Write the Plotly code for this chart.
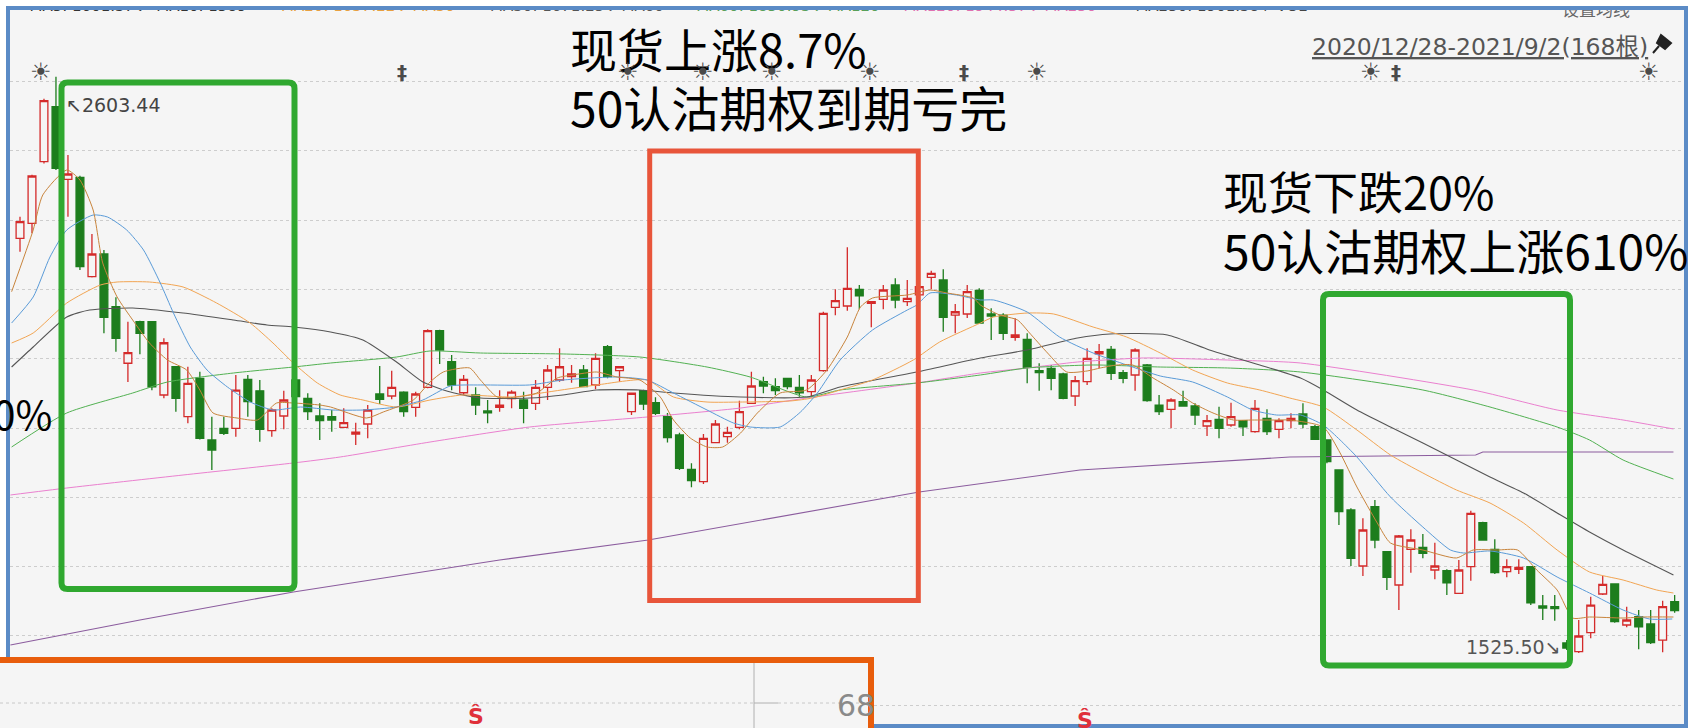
import plotly.graph_objects as go

# ---------------- data ----------------
OPEN = [2301.2, 2329.2, 2444.4, 2547.3, 2411.5, 2415.3, 2229.3, 2271.8, 2173.2, 2067.4,
        2145.2, 2145.2, 2008.1, 2060.9, 1967.5, 2039.3, 1923.9, 1945.7, 1945.7, 2037.4,
        2015.8, 1941.3, 1968.8, 2036.1, 2001.9, 1968.8, 1967.5, 1947.6, 1935.1, 1953.8,
        2009.9, 2006.2, 2013.6, 1985.0, 2022.4, 2128.3, 2070.3, 2012.3, 2008.1, 1978.1,
        1985.0, 2001.1, 1998.7, 1992.5, 2022.4, 2036.1, 2042.3, 2054.8, 2026.8, 2098.4,
        2053.5, 1976.8, 2016.1, 1993.6, 1967.5, 1933.2, 1869.1, 1845.9, 1918.8, 1930.1,
        1947.6, 1992.5, 2032.9, 2023.6, 2039.3, 2022.4, 2014.2, 2053.5, 2172.1, 2174.5,
        2205.8, 2179.6, 2187.1, 2213.8, 2182.6, 2195.3, 2228.2, 2223.2, 2157.6, 2159.6,
        2203.5, 2159.6, 2157.6, 2116.0, 2112.2, 2053.5, 2058.0, 2047.3, 2006.2, 2032.9,
        2084.8, 2093.5, 2049.8, 2045.5, 2064.2, 1989.3, 1981.3, 1995.5, 1987.5, 1950.1,
        1962.6, 1951.9, 1960.0, 1939.4, 1964.4, 1943.9, 1960.0, 1972.5, 1948.7, 1923.9,
        1867.8, 1793.0, 1688.2, 1799.1, 1715.0, 1652.7, 1719.4, 1723.1, 1680.7, 1679.4,
        1637.1, 1686.9, 1769.2, 1719.4, 1677.5, 1682.0, 1686.9, 1613.4, 1612.0, 1544.2,
        1528.0, 1563.4, 1635.8, 1654.5, 1577.8, 1593.3, 1579.7, 1549.7, 1621.4]
HIGH = [2341.6, 2420.0, 2562.0, 2603.44, 2457.0, 2418.0, 2309.2, 2279.3, 2190.8, 2145.2,
        2147.0, 2146.0, 2114.1, 2062.0, 2060.9, 2051.6, 1967.5, 1967.5, 2045.5, 2045.5,
        2036.1, 1983.2, 2016.1, 2039.8, 2011.3, 1992.5, 1980.0, 1983.2, 1956.3, 1989.3,
        2062.3, 2053.5, 2015.0, 2014.2, 2130.9, 2130.0, 2082.9, 2045.5, 2022.4, 1998.7,
        2017.0, 2017.0, 2014.2, 2036.1, 2064.2, 2095.4, 2064.2, 2064.2, 2086.0, 2101.6,
        2062.3, 2012.0, 2018.0, 2003.7, 1974.4, 1937.5, 1880.3, 1935.1, 1961.3, 1948.7,
        1997.4, 2051.6, 2042.3, 2039.3, 2040.0, 2045.5, 2045.5, 2163.8, 2205.8, 2284.3,
        2213.8, 2183.0, 2213.8, 2226.3, 2223.2, 2213.8, 2240.5, 2243.2, 2178.4, 2213.8,
        2207.6, 2170.2, 2160.8, 2151.4, 2123.5, 2067.3, 2064.2, 2049.8, 2043.6, 2095.4,
        2103.4, 2099.7, 2054.8, 2095.4, 2066.0, 2008.1, 2001.9, 2016.1, 1992.5, 1970.6,
        1986.2, 1993.6, 1961.0, 1998.7, 1981.3, 1964.4, 1973.8, 1992.5, 1951.9, 1925.0,
        1869.0, 1796.1, 1777.4, 1811.7, 1716.0, 1746.2, 1756.8, 1748.0, 1731.8, 1682.0,
        1699.4, 1791.6, 1771.0, 1738.1, 1700.7, 1700.7, 1688.0, 1633.9, 1633.9, 1549.7,
        1587.2, 1630.7, 1669.5, 1656.0, 1612.1, 1605.9, 1605.9, 1623.3, 1633.9]
LOW = [2276.1, 2310.5, 2441.0, 2428.9, 2341.6, 2241.9, 2228.0, 2123.5, 2089.0, 2032.5,
       2084.2, 2017.0, 2001.9, 1976.8, 1955.1, 1925.0, 1867.8, 1933.2, 1930.1, 1967.5,
       1920.7, 1930.1, 1943.9, 1998.7, 1961.3, 1923.9, 1939.4, 1945.7, 1914.5, 1927.1,
       1991.2, 2000.0, 1967.5, 1967.5, 2020.6, 2066.0, 2017.0, 2008.1, 1970.6, 1955.1,
       1976.8, 1983.2, 1955.1, 1980.0, 1998.7, 2032.9, 2031.1, 2022.4, 2018.7, 2039.3,
       2032.9, 1970.6, 1980.0, 1970.6, 1919.2, 1867.8, 1835.4, 1841.6, 1917.7, 1918.8,
       1943.9, 1991.2, 2011.3, 2008.1, 2018.7, 2004.9, 2004.9, 2051.6, 2157.2, 2165.6,
       2168.3, 2134.7, 2168.3, 2170.2, 2174.5, 2185.8, 2205.8, 2126.5, 2123.5, 2152.1,
       2140.8, 2110.9, 2110.9, 2109.6, 2029.9, 2015.8, 2017.0, 2000.0, 1987.5, 2026.8,
       2058.0, 2036.1, 2029.9, 2015.8, 1995.5, 1970.6, 1945.7, 1986.2, 1951.9, 1931.4,
       1927.1, 1948.7, 1931.4, 1937.5, 1933.2, 1927.1, 1945.7, 1945.7, 1923.9, 1880.3,
       1764.9, 1688.2, 1669.5, 1721.2, 1643.3, 1605.9, 1675.7, 1702.6, 1663.3, 1633.9,
       1635.8, 1660.7, 1735.5, 1673.2, 1667.1, 1673.2, 1615.2, 1587.2, 1585.9, 1531.1,
       1525.5, 1553.0, 1633.9, 1582.1, 1573.5, 1532.4, 1542.3, 1527.0, 1600.8]
CLOSE = [2332.2, 2417.7, 2558.5, 2432.0, 2421.4, 2248.0, 2271.8, 2153.4, 2114.1, 2087.2,
         2123.5, 2023.2, 2105.8, 2001.9, 2029.9, 1927.1, 1905.2, 1936.4, 2017.0, 1995.5,
         1943.9, 1980.0, 1998.7, 2004.9, 1976.8, 1960.0, 1961.3, 1956.3, 1938.8, 1980.0,
         2000.0, 2022.4, 1976.8, 2009.9, 2128.3, 2092.2, 2026.8, 2037.4, 1989.3, 1974.9,
         1989.3, 2013.6, 1983.2, 2022.4, 2054.8, 2060.9, 2047.3, 2023.6, 2076.7, 2042.3,
         2060.9, 2011.3, 1991.2, 1973.8, 1928.6, 1871.0, 1847.8, 1927.1, 1953.8, 1938.3,
         1976.8, 2024.9, 2024.9, 2016.1, 2023.6, 2012.3, 2036.1, 2160.8, 2184.4, 2207.6,
         2193.4, 2182.6, 2204.5, 2185.8, 2188.9, 2210.6, 2235.7, 2153.4, 2163.8, 2201.3,
         2142.7, 2155.8, 2123.5, 2120.3, 2059.9, 2049.8, 2039.3, 2001.9, 2034.8, 2076.7,
         2089.0, 2048.6, 2039.3, 2092.2, 1997.4, 1976.8, 1998.7, 1987.5, 1970.6, 1960.0,
         1945.7, 1967.5, 1948.7, 1983.2, 1939.4, 1960.0, 1964.4, 1953.8, 1925.2, 1883.3,
         1789.8, 1702.6, 1755.5, 1736.8, 1667.1, 1744.3, 1736.8, 1711.9, 1688.2, 1656.9,
         1680.7, 1786.8, 1736.8, 1675.7, 1686.9, 1685.8, 1619.5, 1609.6, 1608.3, 1534.8,
         1557.3, 1615.2, 1653.9, 1584.0, 1587.2, 1574.6, 1544.7, 1612.1, 1604.6]
BAR = list(range(len(OPEN)))

# moving averages: (bar position, value) pairs
MA5 = [(-0.7, 2201.3), (1.1, 2316.7), (1.9, 2382.2), (3.9, 2428.9), (5.0, 2410.2), (6.1, 2354.1),
       (6.9, 2255.0), (8.1, 2191.4), (9.4, 2148.3), (10.8, 2105.3), (12.3, 2073.5), (13.9, 2054.8),
       (15.0, 2017.4), (16.1, 1974.4), (18.1, 1965.0), (19.8, 1961.3), (21.4, 1993.1), (22.8, 1993.1),
       (25.0, 1989.3), (25.9, 1985.6), (28.9, 1965.0), (30.3, 1976.3), (32.8, 1998.7), (34.2, 2032.4),
       (35.3, 2051.1), (37.5, 2058.6), (38.4, 2036.1), (39.8, 2004.3), (41.5, 2004.3), (43.1, 2011.8),
       (44.8, 2039.8), (46.1, 2045.5), (48.1, 2051.1), (49.8, 2041.7), (51.7, 2036.1), (53.4, 2004.3),
       (54.5, 1961.3), (55.9, 1927.6), (57.3, 1910.8), (58.6, 1910.8), (60.1, 1937.0), (61.5, 1974.4),
       (63.4, 2011.8), (65.6, 2017.4), (67.3, 2054.8), (69.0, 2116.5), (70.1, 2172.7), (71.1, 2189.5),
       (74.0, 2195.1), (75.9, 2204.5), (77.3, 2198.9), (79.5, 2189.5), (80.1, 2176.4), (81.7, 2157.7),
       (83.2, 2148.3), (84.2, 2124.0), (85.7, 2086.6), (87.3, 2051.1), (89.0, 2053.0), (90.1, 2058.6),
       (91.5, 2064.2), (92.8, 2064.2), (94.5, 2039.9), (96.2, 2017.4), (97.8, 1993.1), (99.5, 1974.4),
       (101.2, 1961.3), (102.8, 1961.3), (104.8, 1961.3), (105.9, 1961.3), (108.7, 1948.2),
       (110.1, 1899.6), (111.5, 1836.0), (113.2, 1768.6), (114.3, 1731.2), (117.0, 1718.1),
       (119.8, 1703.2), (121.2, 1718.1), (123.2, 1718.1), (124.9, 1718.1), (126.5, 1680.7),
       (128.2, 1643.3), (129.5, 1590.9), (130.9, 1592.8), (133.7, 1590.9), (135.4, 1592.8),
       (137.9, 1592.8)]
MA10 = [(-0.7, 2142.7), (1.1, 2191.4), (2.5, 2266.2), (3.9, 2316.7), (6.1, 2344.7), (7.3, 2341.0),
        (8.9, 2316.7), (10.3, 2279.3), (11.7, 2217.6), (12.8, 2161.4), (14.2, 2097.8), (15.6, 2054.8),
        (17.3, 2023.0), (19.2, 1995.0), (21.1, 1980.0), (23.4, 1985.6), (26.1, 1980.0), (28.6, 1980.0),
        (31.4, 1985.6), (33.6, 1998.7), (35.9, 2024.9), (38.4, 2026.8), (42.5, 2026.8), (45.3, 2036.1),
        (49.8, 2041.7), (52.3, 2036.1), (54.5, 2011.8), (57.3, 1980.0), (59.5, 1955.7), (60.9, 1948.2),
        (63.4, 1948.2), (65.1, 1976.3), (66.5, 2011.8), (68.4, 2073.5), (71.1, 2129.6), (74.0, 2167.0),
        (74.8, 2176.4), (75.9, 2198.9), (78.1, 2195.1), (80.1, 2185.8), (81.2, 2185.8), (84.0, 2163.3),
        (86.7, 2116.5), (89.5, 2086.6), (92.3, 2064.2), (95.1, 2043.6), (97.8, 2032.4), (100.7, 2004.3),
        (102.8, 1980.0), (104.8, 1970.6), (106.8, 1970.6), (108.7, 1951.9), (110.1, 1923.9),
        (111.5, 1892.1), (114.3, 1817.3), (117.0, 1761.1), (119.3, 1718.1), (120.4, 1712.5),
        (122.6, 1716.3), (125.4, 1703.2), (128.2, 1667.6), (130.9, 1637.7), (133.7, 1605.9),
        (135.9, 1589.1), (137.8, 1589.1)]
MA20 = [(-0.7, 2105.3), (1.1, 2124.0), (3.9, 2180.1), (6.7, 2213.8), (8.1, 2219.4), (10.8, 2219.4),
        (13.6, 2210.1), (16.4, 2180.1), (19.2, 2142.7), (21.1, 2105.3), (22.8, 2067.9), (24.8, 2030.5),
        (26.7, 2008.1), (28.6, 1998.7), (31.4, 1985.6), (34.2, 1998.7), (36.9, 2008.1), (41.1, 2004.3),
        (44.0, 2013.6), (48.1, 2026.8), (52.3, 2036.1), (54.5, 2004.3), (57.3, 1994.9), (60.1, 1994.9),
        (64.2, 1996.8), (66.1, 2002.4), (68.4, 2017.4), (71.1, 2036.1), (74.5, 2073.5), (76.7, 2107.2),
        (80.1, 2142.7), (81.2, 2153.9), (84.0, 2161.4), (86.2, 2159.6), (89.5, 2135.2), (92.3, 2116.5),
        (95.1, 2086.6), (97.8, 2054.8), (100.7, 2030.5), (103.4, 2017.4), (105.9, 2002.4),
        (108.7, 1985.6), (111.5, 1942.6), (114.3, 1895.8), (117.0, 1862.2), (119.8, 1830.4),
        (122.6, 1806.0), (125.4, 1768.6), (128.2, 1718.1), (130.9, 1677.0), (133.7, 1662.0),
        (136.5, 1643.3), (137.9, 1637.7)]
MA30 = [(-0.7, 2060.4), (1.1, 2097.8), (3.9, 2153.9), (5.8, 2167.0), (9.4, 2170.8), (13.6, 2161.4),
        (17.8, 2148.3), (20.6, 2139.0), (22.8, 2135.2), (25.9, 2125.9), (28.6, 2110.9), (31.4, 2069.8),
        (33.6, 2032.4), (35.9, 2013.6), (38.4, 2002.4), (42.5, 2002.4), (45.3, 2008.1), (48.1, 2017.4),
        (51.7, 2017.4), (54.5, 2011.8), (60.1, 2004.3), (65.6, 2004.3), (68.4, 2023.0), (74.8, 2051.1),
        (80.1, 2077.3), (84.0, 2092.2), (88.2, 2114.7), (90.9, 2122.2), (95.7, 2120.3), (99.2, 2092.2),
        (103.4, 2064.2), (106.8, 2039.8), (108.7, 2017.4), (111.5, 1980.0), (114.3, 1948.2),
        (117.0, 1918.3), (119.8, 1886.5), (122.6, 1854.7), (125.4, 1824.8), (128.2, 1787.3),
        (130.9, 1751.8), (133.7, 1718.1), (137.9, 1671.4)]
MA60 = [(-0.7, 1910.8), (3.9, 1974.4), (9.4, 2011.8), (12.3, 2032.4), (17.8, 2049.2), (22.8, 2060.4),
        (25.9, 2067.9), (31.4, 2079.1), (34.2, 2090.4), (38.4, 2086.6), (45.3, 2084.8), (51.7, 2079.1),
        (57.3, 2060.4), (60.9, 2041.7), (65.6, 2004.3), (68.4, 2017.4), (74.8, 2030.5), (80.1, 2045.5),
        (84.0, 2058.6), (89.5, 2064.2), (95.1, 2060.4), (100.7, 2058.6), (106.8, 2051.1),
        (117.0, 2017.4), (122.6, 1985.6), (128.2, 1948.2), (130.9, 1923.9), (133.7, 1886.5),
        (137.9, 1850.9)]
MA120 = [(-0.8, 1821.0), (3.9, 1834.1), (13.6, 1858.4), (22.8, 1880.9), (26.7, 1892.1), (34.2, 1920.1),
         (42.5, 1948.2), (52.3, 1966.9), (60.1, 1983.7), (65.6, 2002.4), (74.8, 2030.5), (80.1, 2049.2),
         (84.0, 2058.6), (88.2, 2069.8), (93.7, 2077.3), (100.7, 2073.5), (106.8, 2067.9),
         (121.2, 2017.4), (128.2, 1980.0), (133.7, 1961.3), (137.9, 1944.5)]
MA250 = [(-0.8, 1540.4), (10.0, 1587.2), (22.8, 1639.6), (40.0, 1699.4), (52.4, 1736.8), (75.0, 1826.6),
         (88.4, 1867.8), (105.9, 1892.1), (121.4, 1895.8), (122.0, 1901.4), (137.9, 1901.4)]

GRID_Y = [2594.1, 2464.5, 2334.9, 2205.3, 2075.7, 1946.1, 1816.5, 1686.9, 1557.3, 1427.7]
HIGH_LABEL = "↖2603.44"
LOW_LABEL = "1525.50↘"
RANGE_LABEL = "2020/12/28-2021/9/2(168根)"

# ---------------- layout geometry ----------------
W, H = 1694, 728
PL, PR, PT, PB = 10, 1684, 9, 724
X_RANGE = [-0.834, 138.78]
Y_RANGE = [1392.66, 2730.07]


def PX(px):
    return (px - PL) / (PR - PL)


def PY(py):
    return (PB - py) / (PB - PT)


def DX(px):
    return X_RANGE[0] + (px - PL) / (PR - PL) * (X_RANGE[1] - X_RANGE[0])


def DY(py):
    return Y_RANGE[1] - (py - PT) / (PB - PT) * (Y_RANGE[1] - Y_RANGE[0])


RED = "#d42a2a"
GREEN = "#1d7d1d"
BG = "#f5f5f5"

fig = go.Figure()

ma_styles = [
    (MA250, "#8b5c9e", "linear", 1.1),
    (MA120, "#ea80cf", "spline", 1.0),
    (MA60, "#52b152", "spline", 1.0),
    (MA30, "#555555", "spline", 1.1),
    (MA20, "#f2a553", "spline", 1.0),
    (MA10, "#5a9bd8", "spline", 1.0),
    (MA5, "#c8843c", "spline", 1.0),
]
for pts, col, shp, w in ma_styles:
    fig.add_trace(go.Scatter(
        x=[p[0] for p in pts], y=[p[1] for p in pts], mode="lines",
        line=dict(color=col, width=w, shape=shp, smoothing=0.6),
        hoverinfo="skip", showlegend=False))

fig.add_trace(go.Candlestick(
    x=BAR, open=OPEN, high=HIGH, low=LOW, close=CLOSE,
    increasing=dict(line=dict(color=RED, width=1.3), fillcolor=BG),
    decreasing=dict(line=dict(color=GREEN, width=1.3), fillcolor=GREEN),
    whiskerwidth=0, showlegend=False, hoverinfo="skip"))

# cut-off legend row at the very top (clipped by the plot area)
frag = [("MA5: 1601.37↓  MA10: 1589", 138, "#333333"),
        ("MA20: 1637.22↓ MA30", 368, "#e8a040"),
        ("MA30: 1671.25↓ MA60", 577, "#555555"),
        ("MA60: 1850.93↓ MA120", 788, "#58a058"),
        ("MA120: 1944.57↓ MA250", 1000, "#e070b0"),
        ("MA250: 1901.38↑ VOL", 1221, "#444444")]
fig.add_trace(go.Scatter(
    x=[DX(f[1]) for f in frag], y=[DY(7.5)] * len(frag), mode="text",
    text=[f[0] for f in frag], textposition="middle center",
    textfont=dict(size=15, color=[f[2] for f in frag], family="DejaVu Sans"),
    cliponaxis=True, hoverinfo="skip", showlegend=False))
fig.add_trace(go.Scatter(
    x=[DX(1596)], y=[DY(12)], mode="text", text=["设置均线"], textposition="middle center",
    textfont=dict(size=17, color="#666666", family="Noto Sans CJK SC"),
    cliponaxis=True, hoverinfo="skip", showlegend=False))

shapes = []


def rrect(x0, y0, x1, y1, r):
    pts = [("M", x0 + r, y0), ("L", x1 - r, y0), ("Q", x1, y0, x1, y0 + r), ("L", x1, y1 - r),
           ("Q", x1, y1, x1 - r, y1), ("L", x0 + r, y1), ("Q", x0, y1, x0, y1 - r),
           ("L", x0, y0 + r), ("Q", x0, y0, x0 + r, y0)]
    s = ""
    for p in pts:
        if p[0] == "Q":
            s += "Q%.5f,%.5f %.5f,%.5f " % (PX(p[1]), PY(p[2]), PX(p[3]), PY(p[4]))
        else:
            s += "%s%.5f,%.5f " % (p[0], PX(p[1]), PY(p[2]))
    return s + "Z"


# outer blue frame
shapes.append(dict(type="rect", xref="paper", yref="paper", x0=PX(8), x1=PX(1686), y0=PY(8), y1=PY(726),
                   line=dict(color="#5b8bc6", width=4), layer="above"))
# highlight boxes
shapes.append(dict(type="path", xref="paper", yref="paper", path=rrect(61.5, 82.5, 294.5, 589, 6),
                   line=dict(color="#30a830", width=6), layer="above"))
shapes.append(dict(type="path", xref="paper", yref="paper", path=rrect(1323, 294, 1570, 665.5, 6),
                   line=dict(color="#30a830", width=6), layer="above"))
shapes.append(dict(type="rect", xref="paper", yref="paper", x0=PX(649.7), x1=PX(918.3), y0=PY(151), y1=PY(600.5),
                   line=dict(color="#e8553a", width=5), layer="above"))
# overlaid screenshot in the lower-left corner
shapes.append(dict(type="rect", xref="paper", yref="paper", x0=PX(-20), x1=PX(871), y0=PY(660), y1=PY(770),
                   line=dict(color="#e85d0c", width=6), fillcolor=BG, layer="above"))
shapes.append(dict(type="line", xref="paper", yref="paper", x0=PX(0), x1=PX(754), y0=PY(703), y1=PY(703),
                   line=dict(color="#c8c8c8", width=1, dash="dot"), layer="above"))
shapes.append(dict(type="line", xref="paper", yref="paper", x0=PX(778), x1=PX(867), y0=PY(703), y1=PY(703),
                   line=dict(color="#c8c8c8", width=1, dash="dot"), layer="above"))
shapes.append(dict(type="line", xref="paper", yref="paper", x0=PX(754), x1=PX(754), y0=PY(663), y1=PY(730),
                   line=dict(color="#b0b0b0", width=1), layer="above"))
shapes.append(dict(type="line", xref="paper", yref="paper", x0=PX(754), x1=PX(778), y0=PY(703), y1=PY(703),
                   line=dict(color="#b0b0b0", width=1), layer="above"))
# pin icon
pin = "M%.5f,%.5f L%.5f,%.5f L%.5f,%.5f L%.5f,%.5f Z M%.5f,%.5f L%.5f,%.5f" % (
    PX(1661), PY(35), PX(1671), PY(43), PX(1665), PY(49), PX(1657), PY(43),
    PX(1659), PY(46), PX(1653), PY(53))
shapes.append(dict(type="path", xref="paper", yref="paper", path=pin, fillcolor="#222222",
                   line=dict(color="#222222", width=2), layer="above"))

annotations = []


def ann(text, px, py, size, color="#000000", family="Noto Sans CJK SC", xanchor="left", yanchor="middle"):
    annotations.append(dict(text=text, x=PX(px), y=PY(py), xref="paper", yref="paper",
                            xanchor=xanchor, yanchor=yanchor, showarrow=False,
                            font=dict(size=size, color=color, family=family)))


# big commentary text
ann("现货上涨8.7%", 568, 47, 47)
ann("50认沽期权到期亏完", 568, 106, 48)
ann("现货下跌20%", 1221, 191, 45)
ann("50认沽期权上涨610%", 1221, 249, 48)
ann("20%", 54, 413, 40, xanchor="right")

# price labels
ann(HIGH_LABEL, 64, 105, 19, "#444444", "DejaVu Sans")
ann(LOW_LABEL, 1563, 647, 19, "#555555", "DejaVu Sans", xanchor="right")
ann("<u>" + RANGE_LABEL + "</u>", 1650, 47, 23.5, "#555555", "DejaVu Sans, Noto Sans CJK SC", xanchor="right")

# event icons row
for px in [41, 628, 703, 772, 870, 1037, 1371, 1649]:
    ann("<b>☀</b>", px, 72, 24, "#4a4a4a", "DejaVu Sans", xanchor="center")
for px in [402, 964, 1396]:
    ann("<b>‡</b>", px, 72, 20, "#4a4a4a", "DejaVu Sans", xanchor="center")

# bottom fragments
ann("68", 835, 705, 30, "#8a8a8a", "DejaVu Sans")
ann("<b>Ŝ</b>", 476, 716, 22, "#e0303a", "DejaVu Sans", xanchor="center")
ann("<b>Ŝ</b>", 1085, 720, 22, "#e0303a", "DejaVu Sans", xanchor="center")

fig.update_layout(
    width=W, height=H, autosize=False,
    margin=dict(l=PL, r=W - PR, t=PT, b=H - PB, pad=0),
    paper_bgcolor="#ffffff", plot_bgcolor=BG,
    showlegend=False, boxgap=0.35, boxgroupgap=0.0,
    shapes=shapes, annotations=annotations,
    xaxis=dict(range=X_RANGE, showgrid=False, zeroline=False, showticklabels=False, ticks="",
               showline=False, rangeslider=dict(visible=False), fixedrange=True),
    yaxis=dict(range=Y_RANGE, tickvals=GRID_Y, showgrid=True, gridcolor="#cdcdcd", griddash="dot",
               gridwidth=1, zeroline=False, showticklabels=False, ticks="", showline=False, fixedrange=True),
)

fig.write_html("out.html", config={"displayModeBar": False},
               post_script="document.body.style.margin='0';")
